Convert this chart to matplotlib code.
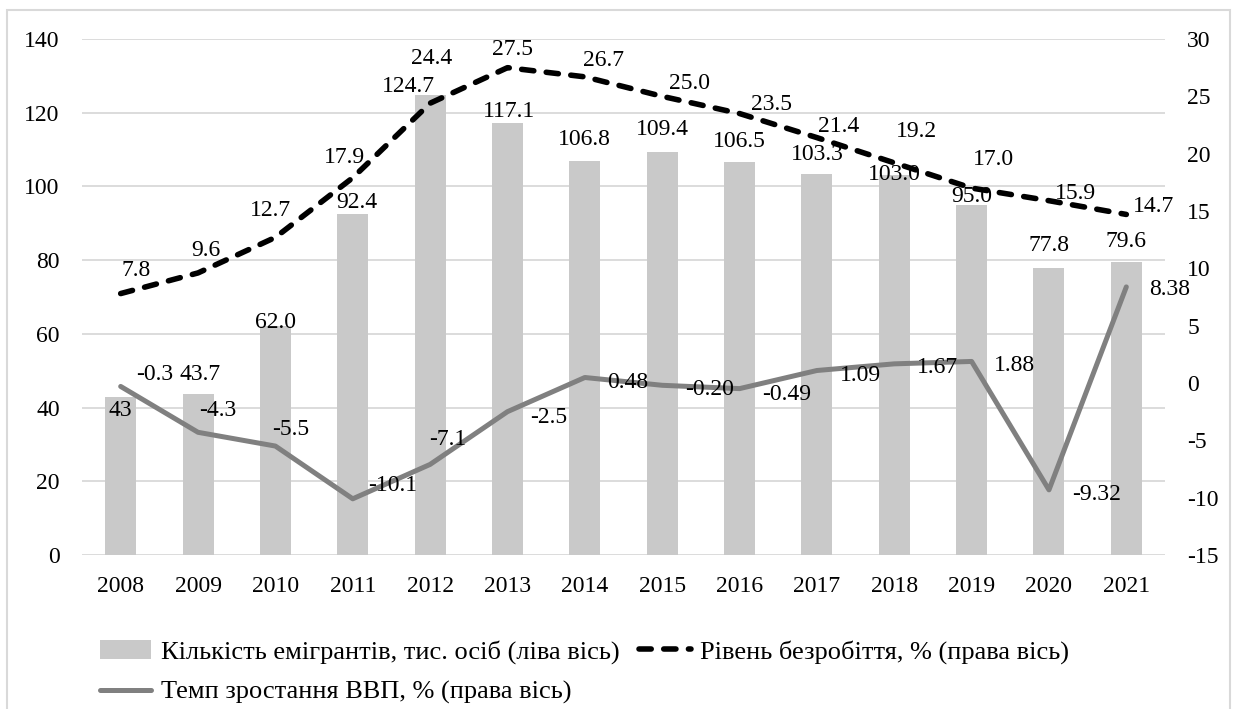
import matplotlib
matplotlib.use('Agg')
import matplotlib.pyplot as plt
from matplotlib.patches import Rectangle

plt.rcParams['font.family'] = ['Liberation Serif', 'DejaVu Serif']
plt.rcParams['axes.unicode_minus'] = False

years = ['2008', '2009', '2010', '2011', '2012', '2013', '2014',
         '2015', '2016', '2017', '2018', '2019', '2020', '2021']
emigrants = [43, 43.7, 62.0, 92.4, 124.7, 117.1, 106.8,
             109.4, 106.5, 103.3, 103.0, 95.0, 77.8, 79.6]
emigrant_labels = ['43', '43.7', '62.0', '92.4', '124.7', '117.1', '106.8',
                   '109.4', '106.5', '103.3', '103.0', '95.0', '77.8', '79.6']
unemployment = [7.8, 9.6, 12.7, 17.9, 24.4, 27.5, 26.7,
                25.0, 23.5, 21.4, 19.2, 17.0, 15.9, 14.7]
gdp = [-0.3, -4.3, -5.5, -10.1, -7.1, -2.5, 0.48,
       -0.20, -0.49, 1.09, 1.67, 1.88, -9.32, 8.38]
gdp_labels = ['-0.3', '-4.3', '-5.5', '-10.1', '-7.1', '-2.5', '0.48',
              '-0.20', '-0.49', '1.09', '1.67', '1.88', '-9.32', '8.38']

# label centre offsets from the point, in pixels (x right, y up)
bar_off = [(0, -11), (2, 22), (0, 6), (4, 14), (-22, 11), (2, 14), (0, 24),
           (0, 25), (0, 23), (0, 22), (0, 3), (0, 11), (0, 25), (0, 23)]
unemp_off = [(15, 26), (8, 25), (-5, 29), (-8, 23), (2, 47), (5, 21), (19, 19),
             (27, 15), (32, 12), (22, 14), (22, 34), (22, 31), (27, 10), (27, 10)]
gdp_off = [(34, 14), (20, 24), (15, 19), (40, 16), (18, 27), (41, -3), (43, -3),
           (47, -2), (47, -3), (44, -2), (43, -1), (43, -2), (48, -2), (43, 0)]

W, H = 1239, 709
fig = plt.figure(figsize=(W / 100, H / 100), dpi=100)
ax = fig.add_axes([82 / W, 1 - 555 / H, (1165 - 82) / W, (555 - 39) / H])
ax2 = ax.twinx()

fs = 17
grid_c = '#d9d9d9'
x = list(range(len(years)))

bars = ax.bar(x, emigrants, width=0.4, color='#c9c9c9', zorder=2,
              label='Кількість емігрантів, тис. осіб (ліва вісь)')
ax.set_xlim(-0.5, len(years) - 0.5)
ax.set_ylim(0, 140)
ax.set_yticks(range(0, 141, 20))
ax.yaxis.grid(True, color=grid_c, linewidth=1.3, zorder=0)
ax.set_axisbelow(True)
ax.set_xticks(x)
ax.set_xticklabels(years)

unemp_line, = ax2.plot(x, unemployment, color='black', linewidth=4.0,
                       linestyle=(0, (2.2, 2.25)), dash_capstyle='round',
                       label='Рівень безробіття, % (права вісь)', zorder=3)
gdp_line, = ax2.plot(x, gdp, color='#808080', linewidth=3.6,
                     solid_joinstyle='round', solid_capstyle='round',
                     label='Темп зростання ВВП, % (права вісь)', zorder=3)
ax2.set_ylim(-15, 30)
ax2.set_yticks(range(-15, 31, 5))

for a in (ax, ax2):
    for s in a.spines.values():
        s.set_visible(False)
    a.tick_params(length=0, labelsize=fs)
ax.tick_params(axis='y', pad=16)
ax.tick_params(axis='x', pad=15)
ax2.tick_params(axis='y', pad=16)

def put_labels(axis, xs, ys, texts, offs):
    for xi, yi, t, (dx, dy) in zip(xs, ys, texts, offs):
        axis.annotate(t, (xi, yi), xytext=(dx, dy - 8), textcoords='offset pixels',
                      ha='center', va='baseline', fontsize=fs, zorder=5)

put_labels(ax, x, emigrants, emigrant_labels, bar_off)
put_labels(ax2, x, unemployment, [f'{v:.1f}' for v in unemployment], unemp_off)
put_labels(ax2, x, gdp, gdp_labels, gdp_off)

fig.legend([bars, gdp_line, unemp_line],
           [bars.get_label(), gdp_line.get_label(), unemp_line.get_label()],
           ncol=2, loc='upper left', bbox_to_anchor=(100 / W, 1 - 640 / H),
           frameon=False, fontsize=19, handlelength=1.95, handletextpad=0.35,
           columnspacing=0.75, labelspacing=0.62, borderpad=0, borderaxespad=0)

fig.patches.append(Rectangle((7 / W, -0.05), (1230 - 7) / W, 1.05 - 10 / H,
                             transform=fig.transFigure, fill=False,
                             edgecolor=grid_c, linewidth=1.5))

fig.savefig('out.png', dpi=100)
